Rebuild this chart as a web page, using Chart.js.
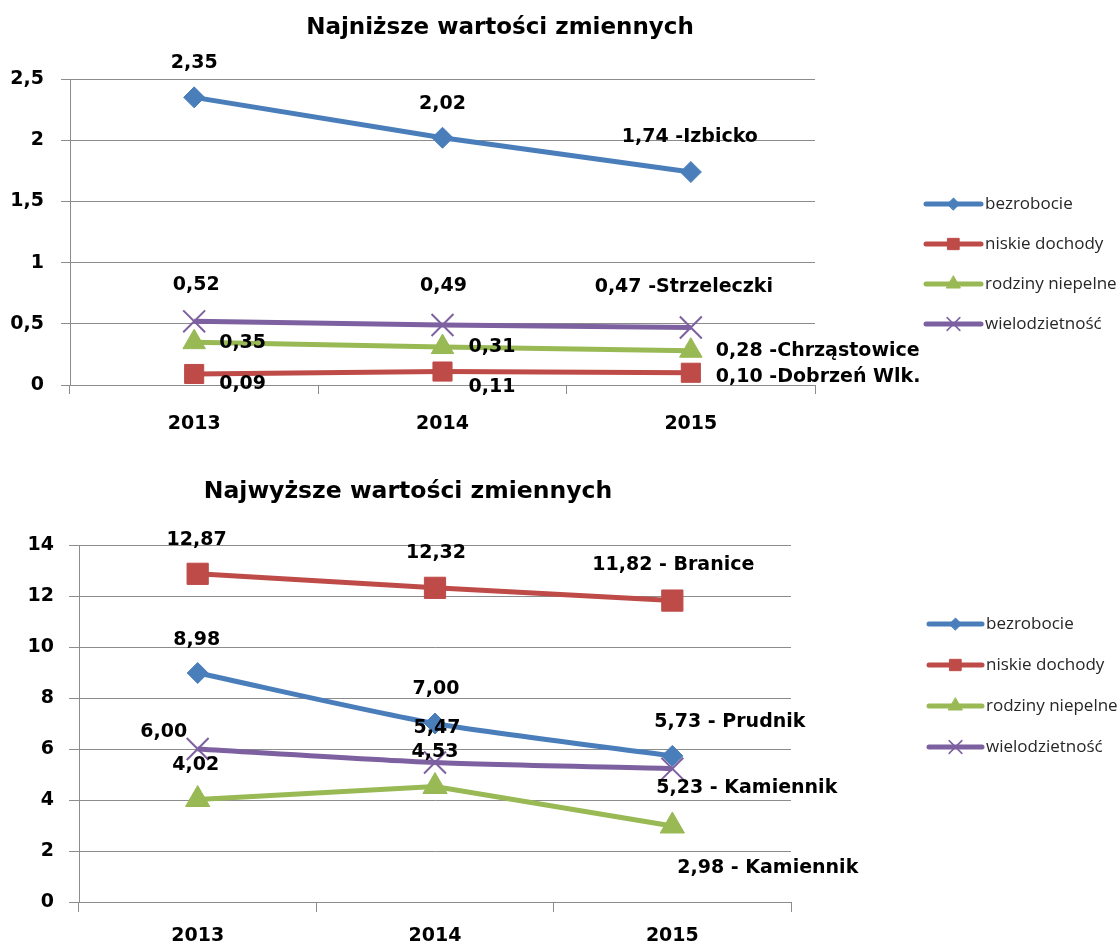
<!DOCTYPE html>
<html lang="pl">
<head>
<meta charset="utf-8">
<title>Wartości zmiennych 2013-2015</title>
<script src="https://cdn.jsdelivr.net/npm/chart.js@4.4.1/dist/chart.umd.min.js"></script>
<style>
  html, body { margin: 0; padding: 0; background: #ffffff; }
  .wrap { position: relative; width: 1120px; height: 946px; overflow: hidden; }
  .wrap canvas { position: absolute; left: 0; }
  #lowChart { top: 0; }
  #highChart { top: 456px; }
</style>
</head>
<body>
<div class="wrap">
  <canvas id="lowChart" width="1120" height="460"></canvas>
  <canvas id="highChart" width="1120" height="490"></canvas>
</div>
<script>
// --- data ---
const YEARS = ['2013', '2014', '2015'];
const SERIES_NAMES = ['bezrobocie', 'niskie dochody', 'rodziny niepelne', 'wielodzietność'];

// Najniższe wartości zmiennych
const LOW_BEZROBOCIE = [2.35, 2.02, 1.74];
const LOW_NISKIE_DOCHODY = [0.09, 0.11, 0.10];
const LOW_RODZINY_NIEPELNE = [0.35, 0.31, 0.28];
const LOW_WIELODZIETNOSC = [0.52, 0.49, 0.47];
const LOW_GMINY = ['Izbicko', 'Dobrzeń Wlk.', 'Chrząstowice', 'Strzeleczki'];
const LOW_TICKS = [0, 0.5, 1, 1.5, 2, 2.5];

// Najwyższe wartości zmiennych
const HIGH_BEZROBOCIE = [8.98, 7.00, 5.73];
const HIGH_NISKIE_DOCHODY = [12.87, 12.32, 11.82];
const HIGH_RODZINY_NIEPELNE = [4.02, 4.53, 2.98];
const HIGH_WIELODZIETNOSC = [6.00, 5.47, 5.23];
const HIGH_GMINY = ['Prudnik', 'Branice', 'Kamiennik', 'Kamiennik'];
const HIGH_TICKS = [0, 2, 4, 6, 8, 10, 12, 14];

// --- styles ---
const COLORS = ['#4a7ebb', '#be4b48', '#98b954', '#7d60a0'];
const POINT_STYLES = ['rectRot', 'rect', 'triangle', 'crossRot'];
const GRID = '#8c8c8c';
const BOLD = "'DejaVu Sans', sans-serif";
const LEGEND_FONT = "'Open Sans', sans-serif";

const fmtTick = v => String(v).replace('.', ',');
const fmtValue = v => v.toFixed(2).replace('.', ',');

// title, legend and data labels drawn on top of the chart
function makeDecor(cfg) {
  return {
    id: 'decor',
    afterDatasetsDraw(chart) {
      const ctx = chart.ctx;
      ctx.save();
      ctx.fillStyle = '#000';
      ctx.font = `bold 19px ${BOLD}`;
      ctx.textBaseline = 'middle';
      chart.data.datasets.forEach((ds, i) => {
        const meta = chart.getDatasetMeta(i);
        meta.data.forEach((el, j) => {
          const [dx, dy, align] = cfg.labelOffsets[i][j];
          let text = fmtValue(ds.data[j]);
          if (j === ds.data.length - 1) text += cfg.separator + cfg.places[i];
          ctx.textAlign = align;
          ctx.fillText(text, el.x + dx, el.y + dy);
        });
      });
      ctx.restore();
    },
    afterDraw(chart) {
      const ctx = chart.ctx;
      ctx.save();
      // title
      ctx.fillStyle = '#000';
      ctx.font = `bold ${cfg.titleSize}px ${BOLD}`;
      ctx.textAlign = 'center';
      ctx.textBaseline = 'middle';
      ctx.fillText(cfg.title, cfg.titleX, cfg.titleY);

      // legend
      const lg = cfg.legend;
      chart.data.datasets.forEach((ds, i) => {
        const y = lg.y[i];
        ctx.strokeStyle = COLORS[i];
        ctx.lineWidth = 5;
        ctx.lineCap = 'round';
        ctx.beginPath();
        ctx.moveTo(lg.x, y);
        ctx.lineTo(lg.x + lg.len, y);
        ctx.stroke();
        ctx.fillStyle = COLORS[i];
        ctx.lineWidth = i === 3 ? 1.5 : 1;
        Chart.helpers.drawPoint(ctx, {
          pointStyle: POINT_STYLES[i],
          rotation: 0,
          radius: lg.radius[i],
          borderWidth: ctx.lineWidth
        }, lg.x + lg.len / 2, y);
        ctx.fillStyle = '#262626';
        ctx.font = `17px ${LEGEND_FONT}`;
        ctx.textAlign = 'left';
        ctx.textBaseline = 'middle';
        ctx.fillText(ds.label, lg.x + lg.len + 4, y);
      });
      ctx.restore();
    }
  };
}

function buildChart(canvasId, cfg) {
  const ticks = cfg.ticks;
  const datasets = cfg.series.map((values, i) => ({
    label: SERIES_NAMES[i],
    data: values,
    borderColor: COLORS[i],
    backgroundColor: COLORS[i],
    borderWidth: 5,
    pointStyle: POINT_STYLES[i],
    pointRadius: cfg.pointRadius[i],
    pointHoverRadius: cfg.pointRadius[i],
    pointBorderWidth: i === 3 ? 2 : 1,
    pointBackgroundColor: COLORS[i],
    pointBorderColor: COLORS[i],
    tension: cfg.tension[i],
    fill: false,
    clip: false,
    order: 3 - i
  }));

  return new Chart(document.getElementById(canvasId), {
    type: 'line',
    data: { labels: YEARS, datasets },
    options: {
      responsive: false,
      animation: false,
      devicePixelRatio: 1,
      layout: { padding: cfg.padding },
      plugins: {
        legend: { display: false },
        title: { display: false },
        tooltip: { enabled: false }
      },
      scales: {
        x: {
          offset: true,
          grid: {
            offset: true,
            drawOnChartArea: false,
            drawTicks: true,
            tickLength: cfg.tickLength,
            color: GRID
          },
          border: { display: true, color: GRID },
          ticks: {
            color: '#000',
            font: { family: BOLD, size: 19, weight: 'bold' },
            padding: cfg.xPad,
            maxRotation: 0
          },
          afterFit(scale) { scale.height = cfg.xHeight; }
        },
        y: {
          min: ticks[0],
          max: ticks[ticks.length - 1],
          grid: { color: GRID, tickLength: cfg.tickLength, drawTicks: true },
          border: { display: true, color: GRID },
          ticks: {
            stepSize: ticks[1] - ticks[0],
            color: '#000',
            font: { family: BOLD, size: 19, weight: 'bold' },
            padding: cfg.yPad,
            callback: v => fmtTick(v)
          },
          afterFit(scale) { scale.width = cfg.yWidth; }
        }
      }
    },
    plugins: [makeDecor(cfg)]
  });
}

buildChart('lowChart', {
  series: [LOW_BEZROBOCIE, LOW_NISKIE_DOCHODY, LOW_RODZINY_NIEPELNE, LOW_WIELODZIETNOSC],
  places: LOW_GMINY,
  separator: ' -',
  ticks: LOW_TICKS,
  title: 'Najniższe wartości zmiennych',
  titleSize: 23,
  titleX: 500,
  titleY: 28,
  padding: { left: 0, top: 79, right: 305, bottom: 20 },
  yWidth: 70,
  xHeight: 55,
  tickLength: 9,
  yPad: 17,
  xPad: 19,
  pointRadius: [10.5, 13.5, 13, 15.5],
  tension: [0, 0, 0, 0],
  labelOffsets: [
    [[0, -34, 'center'], [0, -34, 'center'], [-1, -35, 'center']],
    [[25, 10, 'left'], [26, 16, 'left'], [25, 4, 'left']],
    [[25, 1, 'left'], [26, 0, 'left'], [25, 0, 'left']],
    [[2, -36, 'center'], [1, -39, 'center'], [-7, -40, 'center']]
  ],
  legend: { x: 926, len: 55, y: [204, 244, 284, 324], radius: [6, 8, 8, 9] }
});

buildChart('highChart', {
  series: [HIGH_BEZROBOCIE, HIGH_NISKIE_DOCHODY, HIGH_RODZINY_NIEPELNE, HIGH_WIELODZIETNOSC],
  places: HIGH_GMINY,
  separator: ' - ',
  ticks: HIGH_TICKS,
  title: 'Najwyższe wartości zmiennych',
  titleSize: 23.5,
  titleX: 408,
  titleY: 36,
  padding: { left: 0, top: 89, right: 329, bottom: 4 },
  yWidth: 79,
  xHeight: 40,
  tickLength: 10,
  yPad: 15,
  xPad: 13,
  pointRadius: [10.5, 15, 14, 15.5],
  tension: [0.25, 0, 0, 0.25],
  labelOffsets: [
    [[-1, -33, 'center'], [1, -34, 'center'], [-18, -34, 'left']],
    [[-1, -34, 'center'], [1, -35, 'center'], [1, -36, 'center']],
    [[-2, -34, 'center'], [0, -34, 'center'], [5, 42, 'left']],
    [[-34, -17, 'center'], [2, -34, 'center'], [-16, 19, 'left']]
  ],
  legend: { x: 929, len: 53, y: [168, 209, 250, 291], radius: [6, 8, 8, 9] }
});
</script>
</body>
</html>
